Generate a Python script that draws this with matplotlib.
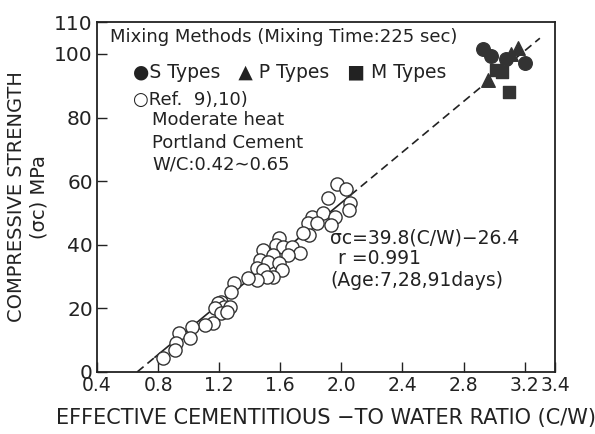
import numpy as np
import matplotlib
matplotlib.use("Agg")
import matplotlib.pyplot as plt

plt.rcParams['font.family'] = ['DejaVu Sans']

# Ref. 9),10) data (open circles)
ref_x = [1.97, 2.03, 1.91, 2.06, 2.05, 1.81, 1.88, 1.96, 1.78, 1.84, 1.93, 1.79, 1.75,
         1.59, 1.57, 1.49, 1.62, 1.68, 1.73, 1.65, 1.55, 1.47, 1.52, 1.59, 1.61, 1.45,
         1.49, 1.55, 1.51, 1.45, 1.39, 1.30, 1.28, 1.21, 1.19, 1.23, 1.27, 1.17, 1.21,
         1.25, 1.16, 1.11, 1.02, 0.94, 1.01, 0.92, 0.91, 0.83]
ref_y = [59.0, 57.5, 54.7, 53.0, 51.0, 48.7, 50.0, 48.7, 46.8, 46.8, 46.2, 43.0, 43.7,
         42.0, 40.0, 38.4, 39.3, 39.3, 37.4, 36.8, 36.8, 35.2, 34.6, 34.3, 32.0, 32.7,
         32.0, 29.9, 29.9, 28.9, 29.6, 28.0, 25.0, 22.0, 21.7, 20.4, 20.4, 20.0, 18.5,
         18.9, 15.4, 14.8, 14.2, 12.3, 10.7, 9.1, 6.9, 4.4]

# mixing methods
s_x = [2.93, 2.98, 3.08, 3.20]
s_y = [101.5, 99.5, 98.5, 97.0]
p_x = [3.16, 3.11, 2.96]
p_y = [102.0, 100.0, 91.8]
m_x = [3.01, 3.05, 3.10]
m_y = [95.0, 94.3, 88.0]

# regression sigma_c = a*(C/W) + b
a, b = 39.8, -26.4
x_start, x_solid0, x_solid1, x_end = 0.663, 0.78, 2.06, 3.30

fig = plt.figure(figsize=(5.95, 4.34), dpi=100)
ax = fig.add_axes([0.163, 0.143, 0.770, 0.806])

xs = np.array([x_solid0, x_solid1])
ax.plot(xs, a * xs + b, color='#222222', lw=1.2)
for seg in ([x_start, x_solid0], [x_solid1, x_end]):
    seg = np.array(seg)
    ax.plot(seg, a * seg + b, color='#222222', lw=1.2, ls=(0, (5, 3)))

ax.scatter(ref_x, ref_y, s=90, facecolors='white', edgecolors='#333333', linewidths=1.0, zorder=3)
ax.scatter(s_x, s_y, s=95, marker='o', color='#333333', zorder=4)
ax.scatter(p_x, p_y, s=95, marker='^', color='#333333', zorder=4)
ax.scatter(m_x, m_y, s=85, marker='s', color='#333333', zorder=4)

ax.set_xlim(0.4, 3.4)
ax.set_ylim(0, 110)
ax.set_xticks([0.4, 0.8, 1.2, 1.6, 2.0, 2.4, 2.8, 3.2, 3.4])
ax.set_xticklabels(['0.4', '0.8', '1.2', '1.6', '2.0', '2.4', '2.8', '3.2', '3.4'])
ax.set_yticks([0, 20, 40, 60, 80, 100, 110])
ax.tick_params(direction='in', length=7, width=1, labelsize=13.5, colors='#222222', pad=3)
ax.tick_params(axis='y', labelsize=14.5)
for sp in ax.spines.values():
    sp.set_linewidth(1.3)
    sp.set_color('#222222')

ax.set_xlabel('EFFECTIVE CEMENTITIOUS \u2212TO WATER RATIO (C/W)', fontsize=15,
              color='#222222', labelpad=9)
ax.set_ylabel('COMPRESSIVE STRENGTH\n(\u03c3c) MPa', fontsize=14, color='#222222',
              labelpad=4, linespacing=1.25)

tc = '#222222'
fs = 13
ax.text(0.485, 105.3, 'Mixing Methods (Mixing Time:225 sec)', fontsize=fs, color=tc, va='center')
ax.text(0.636, 94.3, '\u25cfS Types   \u25b2 P Types   \u25a0 M Types', fontsize=fs + 0.5, color=tc,
        va='center')
ax.text(0.636, 85.5, '\u25cbRef.  9),10)', fontsize=fs, color=tc, va='center')
for txt, yy in [('Moderate heat', 79.2), ('Portland Cement', 72.0), ('W/C:0.42\u223c0.65', 65.1)]:
    ax.text(0.76, yy, txt, fontsize=fs, color=tc, va='center')
ax.text(1.926, 42.1, '\u03c3c=39.8(C/W)\u221226.4', fontsize=13.5, color=tc, va='center')
ax.text(1.978, 35.8, 'r =0.991', fontsize=13.5, color=tc, va='center')
ax.text(1.926, 28.6, '(Age:7,28,91days)', fontsize=13.5, color=tc, va='center')

fig.savefig('out.png', dpi=100)
